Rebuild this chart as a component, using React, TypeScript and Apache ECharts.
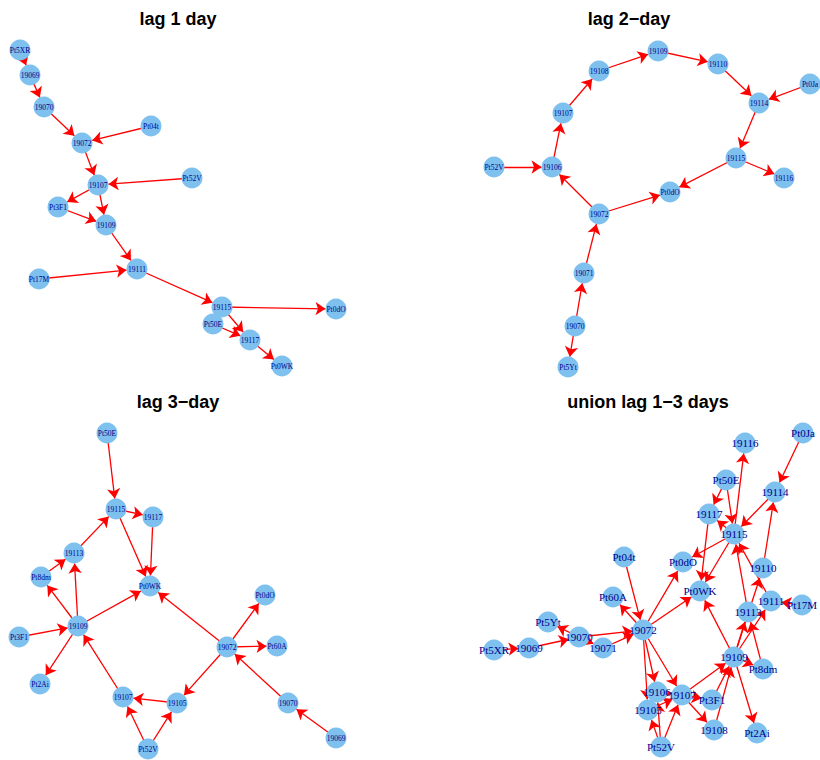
import React, { useEffect, useRef } from "react";
import * as echarts from "echarts";

// Panel titles
const titles = ["lag 1 day", "lag 2−day", "lag 3−day", "union lag 1−3 days"];

// ---- lag 1 day ----
const lag1Names = ["Pt5XR", "19069", "19070", "19072", "Pt04t", "19107", "Pt52V", "Pt3F1", "19109", "19111", "Pt17M", "19115", "Pt0dO", "Pt50E", "19117", "Pt0WK"];
const lag1X = [20, 30, 44, 82, 151, 98, 192, 58, 106, 137, 39, 222, 336, 213, 250, 282];
const lag1Y = [50, 75, 107, 143, 126, 185, 178, 207, 225, 269, 279, 307, 309, 324, 340, 366];
const lag1Edges: [string, string][] = [
  ["Pt5XR", "19069"], ["19069", "19070"], ["19070", "19072"], ["Pt04t", "19072"],
  ["19072", "19107"], ["Pt52V", "19107"], ["19107", "Pt3F1"], ["19107", "19109"],
  ["Pt3F1", "19109"], ["19109", "19111"], ["Pt17M", "19111"], ["19111", "19115"],
  ["19115", "Pt0dO"], ["19115", "19117"], ["Pt50E", "19117"], ["19117", "Pt0WK"],
];

// ---- lag 2-day ----
const lag2Names = ["19109", "19108", "19110", "Pt0Ja", "19114", "19107", "Pt52V", "19106", "19115", "19116", "Pt0dO", "19072", "19071", "19070", "Pt5Yt"];
const lag2X = [658, 599, 718, 810, 759, 563, 494, 552, 736, 784, 670, 599, 584, 575, 568];
const lag2Y = [51, 71, 64, 84, 103, 113, 167, 167, 158, 178, 192, 214, 273, 326, 367];
const lag2Edges: [string, string][] = [
  ["Pt52V", "19106"], ["19106", "19107"], ["19107", "19108"], ["19108", "19109"],
  ["19109", "19110"], ["19110", "19114"], ["Pt0Ja", "19114"], ["19114", "19115"],
  ["19115", "19116"], ["19115", "Pt0dO"], ["19072", "Pt0dO"], ["19072", "19106"],
  ["19071", "19072"], ["19070", "19071"], ["19070", "Pt5Yt"],
];

// ---- lag 3-day ----
const lag3Names = ["Pt50E", "19115", "19117", "19113", "Pt8dm", "Pt0WK", "19109", "Pt3F1", "Pt2Ai", "19107", "19105", "Pt52V", "Pt0dO", "19072", "Pt60A", "19070", "19069"];
const lag3X = [107, 116, 153, 74, 41, 150, 78, 19, 40, 123, 177, 148, 265, 227, 277, 288, 336];
const lag3Y = [433, 509, 517, 553, 577, 586, 626, 637, 684, 697, 703, 749, 595, 647, 646, 703, 738];
const lag3Edges: [string, string][] = [
  ["Pt50E", "19115"], ["19115", "19117"], ["19115", "Pt0WK"], ["19117", "Pt0WK"],
  ["19113", "19115"], ["Pt8dm", "19113"], ["19109", "Pt8dm"], ["19109", "19113"],
  ["19109", "Pt0WK"], ["Pt3F1", "19109"], ["19109", "Pt2Ai"], ["19107", "19109"],
  ["19105", "19107"], ["Pt52V", "19107"], ["Pt52V", "19105"], ["19072", "19105"],
  ["19072", "Pt0WK"], ["19072", "Pt0dO"], ["19072", "Pt60A"], ["19070", "19072"],
  ["19069", "19070"],
];

// ---- union lag 1-3 days ----
const unionNames = ["Pt0Ja", "19116", "Pt50E", "19114", "19117", "19115", "Pt04t", "Pt0dO", "19110", "Pt0WK", "19111", "Pt17M", "Pt60A", "19113", "Pt5Yt", "19070", "19072", "19071", "19069", "Pt5XR", "19109", "Pt8dm", "19106", "19107", "Pt3F1", "19105", "19108", "Pt2Ai", "Pt52V"];
const unionX = [803, 745, 726, 775, 709, 734, 624, 683, 763, 700, 771, 802, 613, 748, 548, 579, 643, 603, 529, 494, 734, 763, 657, 682, 712, 648, 714, 757, 661];
const unionY = [433, 443, 480, 492, 514, 534, 557, 562, 568, 591, 601, 605, 597, 612, 622, 637, 630, 648, 648, 650, 657, 669, 692, 695, 700, 710, 730, 733, 747];

const titleX = [178, 629, 178, 648];
const titleY = [19, 19, 402, 402];
const panelLeft = [0, 410, 0, 410];
const panelTop = [0, 0, 380, 380];

function unionEdges(lists: [string, string][][]): [string, string][] {
  const seen = new Set<string>();
  const out: [string, string][] = [];
  lists.forEach((l) =>
    l.forEach(([s, t]) => {
      const k = s + ">" + t;
      if (!seen.has(k)) {
        seen.add(k);
        out.push([s, t]);
      }
    })
  );
  return out;
}

export default function App() {
  const ref = useRef<HTMLDivElement>(null);
  useEffect(() => {
    document.body.style.margin = "0";
    if (!ref.current) return;
    const chart = echarts.init(ref.current, undefined, { renderer: "svg" });
    const panels = [
      { names: lag1Names, xs: lag1X, ys: lag1Y, edges: lag1Edges, fs: 7.5 },
      { names: lag2Names, xs: lag2X, ys: lag2Y, edges: lag2Edges, fs: 7.5 },
      { names: lag3Names, xs: lag3X, ys: lag3Y, edges: lag3Edges, fs: 7.5 },
      { names: unionNames, xs: unionX, ys: unionY, edges: unionEdges([lag1Edges, lag2Edges, lag3Edges]), fs: 11 },
    ];
    const W = 410;
    const H = 380;
    chart.setOption({
      animation: false,
      backgroundColor: "#ffffff",
      grid: panels.map((_, i) => ({ left: panelLeft[i], top: panelTop[i], width: W, height: H })),
      xAxis: panels.map((_, i) => ({
        type: "value", gridIndex: i, min: panelLeft[i], max: panelLeft[i] + W, show: false,
      })),
      yAxis: panels.map((_, i) => ({
        type: "value", gridIndex: i, min: panelTop[i], max: panelTop[i] + H, inverse: true, show: false,
      })),
      graphic: titles.map((t, i) => ({
        type: "text",
        x: titleX[i],
        y: titleY[i],
        style: {
          text: t,
          fill: "#000000",
          fontSize: 18,
          fontWeight: "bold",
          fontFamily: "Liberation Sans, Arial, sans-serif",
          align: "center",
          verticalAlign: "middle",
        },
      })),
      series: panels.map((p, i) => ({
        type: "graph",
        coordinateSystem: "cartesian2d",
        xAxisIndex: i,
        yAxisIndex: i,
        silent: true,
        symbol: "circle",
        symbolSize: 21,
        itemStyle: { color: "#7EC0EE" },
        label: {
          show: true,
          position: "inside",
          formatter: "{b}",
          color: "#00008B",
          fontFamily: "Liberation Serif, Times New Roman, serif",
          fontSize: p.fs,
        },
        edgeSymbol: ["none", "arrow"],
        edgeSymbolSize: 10,
        lineStyle: { color: "#FF0000", width: 1.3, opacity: 1, curveness: 0 },
        emphasis: { disabled: true },
        data: p.names.map((n, k) => ({ name: n, value: [p.xs[k], p.ys[k]] })),
        links: p.edges.map(([s, t]) => ({ source: s, target: t })),
      })),
    });
    return () => chart.dispose();
  }, []);
  return <div ref={ref} style={{ width: 820, height: 760 }} />;
}
